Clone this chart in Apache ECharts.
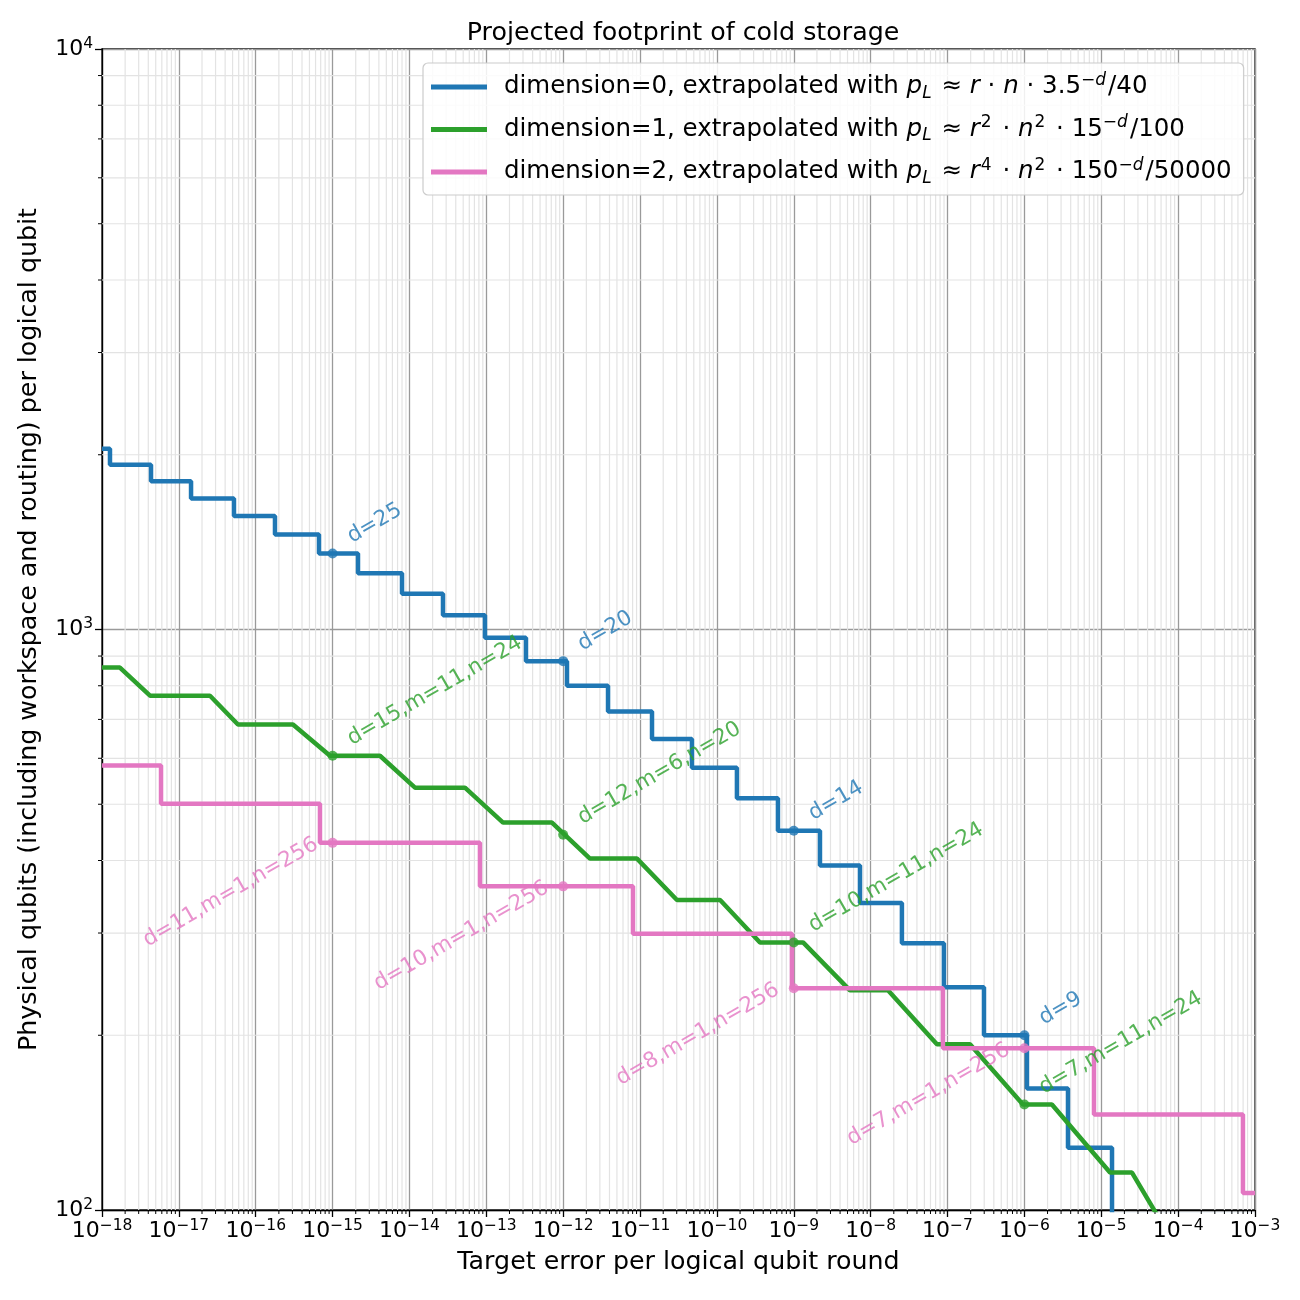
<!DOCTYPE html>
<html>
<head>
<meta charset="utf-8">
<script src="https://cdn.jsdelivr.net/npm/echarts@6/dist/echarts.min.js"></script>
<style>
html,body{margin:0;padding:0;background:#fff;}
#main{width:1300px;height:1300px;}
</style>
</head>
<body>
<div id="main"></div>
<script>
// axis range
var xMin = 1e-18, xMax = 1e-3;
var yMin = 100, yMax = 10000;
var minorSteps = [2, 3, 4, 5, 6, 7, 8, 9];

// dimension=0 (step curve, value changes at each x)
var blueX = [1e-18, 1.27e-18, 4.34e-18, 1.44e-17, 5.21e-17, 1.78e-16, 6.65e-16, 2.14e-15, 8.0e-15, 2.73e-14, 9.6e-14, 3.28e-13, 1.12e-12, 3.83e-12, 1.43e-11, 4.73e-11, 1.82e-10, 6.22e-10, 2.19e-9, 7.26e-9, 2.55e-8, 8.97e-8, 2.98e-7, 1.08e-6, 3.69e-6, 1.38e-5, 1e-3];
var blueY = [2048, 1922, 1800, 1682, 1568, 1458, 1352, 1250, 1152, 1058, 968, 882, 800, 722, 648, 578, 512, 450, 392, 338, 288, 242, 200, 162, 128, 98, 98];

// dimension=1 (sloped steps)
var greenX = [1e-18, 1.71e-18, 4.21e-18, 2.54e-17, 5.87e-17, 3.05e-16, 9.25e-16, 4.13e-15, 1.18e-14, 5.27e-14, 1.65e-13, 7.14e-13, 2.23e-12, 9.12e-12, 3.02e-11, 1.10e-10, 3.63e-10, 1.32e-9, 5.38e-9, 1.68e-8, 7.28e-8, 1.96e-7, 9.57e-7, 2.28e-6, 1.30e-5, 2.51e-5, 7.8e-5];
var greenY = [860, 860, 769, 769, 686, 686, 606, 606, 534, 534, 465, 465, 403, 403, 342, 342, 289, 289, 239, 239, 193, 193, 152, 152, 116, 116, 90];

// dimension=2 (step curve)
var pinkX = [1e-18, 5.86e-18, 6.85e-16, 8.26e-14, 8.09e-12, 9.46e-10, 8.72e-8, 8.04e-6, 6.97e-4, 1e-3];
var pinkY = [583, 501, 429, 361, 299, 241, 190, 146, 107, 107];

// annotated points
var markX = [1e-15, 1e-12, 1e-9, 1e-6];
var blueMarkY = [1352, 882, 450, 200];
var blueMarkText = ['d=25', 'd=20', 'd=14', 'd=9'];
var greenMarkY = [606, 443, 289, 152];
var greenMarkText = ['d=15,m=11,n=24', 'd=12,m=6,n=20', 'd=10,m=11,n=24', 'd=7,m=11,n=24'];
var pinkMarkY = [429, 361, 241, 190];
var pinkMarkText = ['d=11,m=1,n=256', 'd=10,m=1,n=256', 'd=8,m=1,n=256', 'd=7,m=1,n=256'];

var seriesNames = ['dimension=0', 'dimension=1', 'dimension=2'];
var legendText = {
	'dimension=0': '{a|dimension=0, extrapolated with }{i|p}{sub|L}{t| \u2248 }{i|r}{t| \u00b7 }{i|n}{t| \u00b7 3.5}{sup|\u2212}{supi|d}{t|/40}',
	'dimension=1': '{a|dimension=1, extrapolated with }{i|p}{sub|L}{t| \u2248 }{i|r}{sup2|2}{t| \u00b7 }{i|n}{sup2|2}{t| \u00b7 15}{sup|\u2212}{supi|d}{t|/100}',
	'dimension=2': '{a|dimension=2, extrapolated with }{i|p}{sub|L}{t| \u2248 }{i|r}{sup2|4}{t| \u00b7 }{i|n}{sup2|2}{t| \u00b7 150}{sup|\u2212}{supi|d}{t|/50000}'
};

var FONT = 'DejaVu Sans';
var colors = ['#1f77b4', '#2ca02c', '#e377c2'];

function zip(xs, ys) {
	var out = [];
	for (var i = 0; i < xs.length; i++) out.push([xs[i], ys[i]]);
	return out;
}
function zipText(xs, ys, ts) {
	var out = [];
	for (var i = 0; i < xs.length; i++) out.push([xs[i], ys[i], ts[i]]);
	return out;
}

// minor grid lines + minor ticks (2..9 in every decade)
var minorData = [];
for (var e = -18; e < -3; e++) {
	minorSteps.forEach(function(m) { minorData.push([m * Math.pow(10, e), yMin, 0]); });
}
for (var e2 = 2; e2 < 4; e2++) {
	minorSteps.forEach(function(m) { minorData.push([xMin, m * Math.pow(10, e2), 1]); });
}

function renderMinor(params, api) {
	var kind = api.value(2);
	var a, b, t;
	if (kind === 0) {
		a = api.coord([api.value(0), yMin]);
		b = api.coord([api.value(0), yMax]);
		t = [a[0], a[1] + 4];
	} else {
		a = api.coord([xMin, api.value(1)]);
		b = api.coord([xMax, api.value(1)]);
		t = [a[0] - 4, a[1]];
	}
	return {
		type: 'group',
		children: [
			{ type: 'line', shape: { x1: a[0], y1: a[1], x2: b[0], y2: b[1] }, style: { stroke: '#e3e3e3', lineWidth: 1.2 } },
			{ type: 'line', shape: { x1: a[0], y1: a[1], x2: t[0], y2: t[1] }, style: { stroke: '#000', lineWidth: 1 } }
		]
	};
}

function powLabel(v) {
	var p = Math.round(Math.log(v) / Math.LN10);
	return '{b|10}{s|' + (p < 0 ? '\u2212' + (-p) : p) + '}';
}
var tickRich = {
	b: { fontFamily: FONT, fontSize: 22, color: '#000', lineHeight: 27 },
	s: { fontFamily: FONT, fontSize: 15.5, color: '#000', lineHeight: 15, verticalAlign: 'top' }
};

function markSeries(name, ys, texts, color, left) {
	return {
		name: name,
		type: 'scatter',
		z: 5,
		symbol: 'circle',
		symbolSize: 10,
		itemStyle: { color: color },
		data: zipText(markX, ys, texts),
		label: {
			show: true,
			position: 'inside',
			formatter: function(p) { return p.data[2]; },
			rotate: 30,
			align: left ? 'left' : 'right',
			verticalAlign: 'bottom',
			offset: left ? [22, 6] : [-14, 3],
			color: color,
			fontFamily: FONT,
			fontSize: 21.5
		}
	};
}

var chart = echarts.init(document.getElementById('main'), null, { renderer: 'canvas' });
var option = {
	animation: false,
	backgroundColor: '#fff',
	title: {
		text: 'Projected footprint of cold storage',
		left: 678,
		textAlign: 'center',
		top: 16,
		textStyle: { fontFamily: FONT, fontSize: 25.3, fontWeight: 'normal', color: '#000' }
	},
	grid: {
		left: 102, top: 49, right: 45, bottom: 90,
		show: true, borderColor: '#000', borderWidth: 1.3,
		outerBoundsMode: 'none'
	},
	legend: {
		data: seriesNames,
		orient: 'vertical',
		left: 423,
		top: 63,
		padding: [9, 12, 8, 8],
		itemGap: 12.5,
		itemWidth: 56,
		itemHeight: 5,
		icon: 'rect',
		backgroundColor: 'rgba(255,255,255,0.85)',
		borderColor: '#cccccc',
		borderWidth: 1.2,
		borderRadius: 5,
		formatter: function(name) { return legendText[name]; },
		textStyle: {
			color: '#000',
			rich: {
				a: { fontFamily: FONT, fontSize: 24.5, color: '#000', lineHeight: 30, padding: [0, 0, 0, 12] },
				t: { fontFamily: FONT, fontSize: 24.5, color: '#000', lineHeight: 30 },
				i: { fontFamily: FONT, fontSize: 24.5, fontStyle: 'italic', color: '#000', lineHeight: 30 },
				sub: { fontFamily: FONT, fontSize: 17, fontStyle: 'italic', color: '#000', lineHeight: 17, verticalAlign: 'bottom', padding: [0, 2, 0, 0] },
				sup: { fontFamily: FONT, fontSize: 17, color: '#000', lineHeight: 17, verticalAlign: 'top' },
				sup2: { fontFamily: FONT, fontSize: 17, color: '#000', lineHeight: 17, verticalAlign: 'top', padding: [0, 3, 0, 1] },
				supi: { fontFamily: FONT, fontSize: 17, fontStyle: 'italic', color: '#000', lineHeight: 17, verticalAlign: 'top', padding: [0, 2, 0, 0] }
			}
		}
	},
	xAxis: {
		type: 'log',
		logBase: 10,
		min: xMin,
		max: xMax,
		interval: 1,
		splitNumber: 15,
		name: 'Target error per logical qubit round',
		nameLocation: 'middle',
		nameGap: 40,
		nameTextStyle: { fontFamily: FONT, fontSize: 25.3, color: '#000' },
		axisLine: { show: true, onZero: false, lineStyle: { color: '#000', width: 1.3 } },
		axisTick: { show: true, inside: false, length: 7, lineStyle: { color: '#000', width: 1.3 } },
		axisLabel: { formatter: powLabel, rich: tickRich, margin: 8, hideOverlap: false, showMinLabel: true, showMaxLabel: true },
		splitLine: { show: true, lineStyle: { color: '#9a9a9a', width: 1.3 } }
	},
	yAxis: {
		type: 'log',
		logBase: 10,
		min: yMin,
		max: yMax,
		interval: 1,
		splitNumber: 2,
		name: 'Physical qubits (including workspace and routing) per logical qubit',
		nameLocation: 'middle',
		nameGap: 60,
		nameTextStyle: { fontFamily: FONT, fontSize: 25.3, color: '#000' },
		axisLine: { show: true, onZero: false, lineStyle: { color: '#000', width: 1.3 } },
		axisTick: { show: true, inside: false, length: 7, lineStyle: { color: '#000', width: 1.3 } },
		axisLabel: { formatter: powLabel, rich: tickRich, margin: 9, hideOverlap: false, showMinLabel: true, showMaxLabel: true },
		splitLine: { show: true, lineStyle: { color: '#9a9a9a', width: 1.3 } }
	},
	series: [
		{
			type: 'custom',
			name: 'minor',
			z: 1,
			silent: true,
			clip: false,
			renderItem: renderMinor,
			encode: { x: 0, y: 1 },
			data: minorData
		},
		{
			name: seriesNames[0],
			type: 'line',
			z: 3,
			step: 'end',
			showSymbol: false,
			symbol: 'none',
			color: colors[0],
			lineStyle: { color: colors[0], width: 4.5 },
			data: zip(blueX, blueY)
		},
		{
			name: seriesNames[1],
			type: 'line',
			z: 3,
			showSymbol: false,
			symbol: 'none',
			color: colors[1],
			lineStyle: { color: colors[1], width: 4.5 },
			data: zip(greenX, greenY)
		},
		{
			name: seriesNames[2],
			type: 'line',
			z: 3,
			step: 'end',
			showSymbol: false,
			symbol: 'none',
			color: colors[2],
			lineStyle: { color: colors[2], width: 4.5 },
			data: zip(pinkX, pinkY)
		},
		markSeries('mark0', blueMarkY, blueMarkText, colors[0], true),
		markSeries('mark1', greenMarkY, greenMarkText, colors[1], true),
		markSeries('mark2', pinkMarkY, pinkMarkText, colors[2], false)
	]
};
chart.setOption(option);
</script>
</body>
</html>
